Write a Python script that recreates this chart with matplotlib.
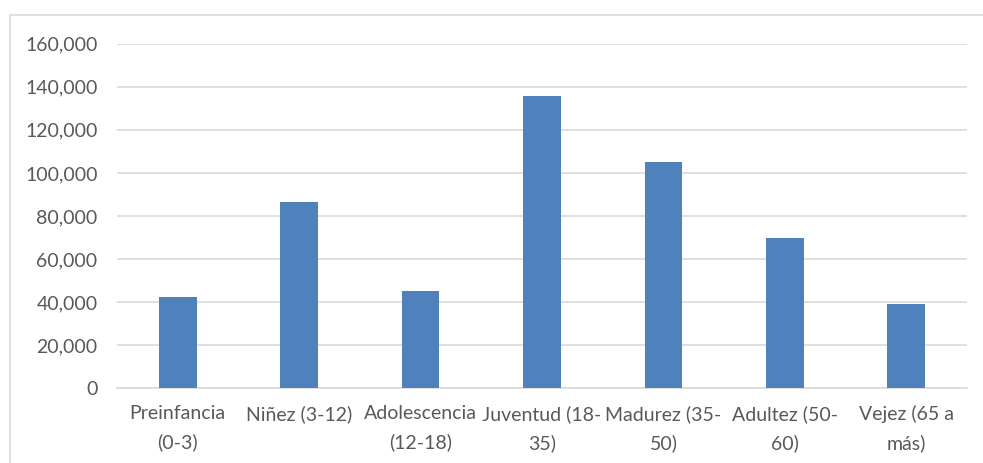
import matplotlib
matplotlib.use("Agg")
import matplotlib.pyplot as plt
from matplotlib.patches import Rectangle
from matplotlib.ticker import FuncFormatter

# data
categories = ["Preinfancia\n(0-3)", "Niñez (3-12)", "Adolescencia\n(12-18)",
              "Juventud (18-\n35)", "Madurez (35-\n50)", "Adultez (50-\n60)",
              "Vejez (65 a\nmás)"]
values = [42400, 86300, 45300, 135800, 105100, 69800, 39000]
y_ticks = [0, 20000, 40000, 60000, 80000, 100000, 120000, 140000, 160000]

bar_color = "#4F81BD"
text_color = "#595959"
grid_color = "#D9D9D9"

plt.rcParams['font.family'] = ['Lato', 'DejaVu Sans']

fig = plt.figure(figsize=(9.83, 4.63), dpi=100)
fig.patch.set_facecolor("white")

# light chart-area frame (runs off right/bottom edge like the source)
fig.patches.append(Rectangle((10 / 983, -0.1), 1.0, 1 - 15 / 463 + 0.1,
                             transform=fig.transFigure, fill=False,
                             edgecolor=grid_color, linewidth=1.2))

ax = fig.add_axes([117 / 983, 1 - 388.3 / 463, 850 / 983, 344.6 / 463])
x = range(len(categories))
ax.bar(x, values, width=0.31, color=bar_color, zorder=3)

ax.set_xlim(-0.5, len(categories) - 0.5)
ax.set_ylim(0, 160000)
ax.set_yticks(y_ticks)
ax.yaxis.set_major_formatter(FuncFormatter(lambda v, p: f"{int(v):,}"))
ax.set_xticks(list(x))
ax.set_xticklabels(categories, linespacing=1.75)

ax.grid(axis="y", color=grid_color, linewidth=1.2, zorder=0)
for side in ["top", "right", "left"]:
    ax.spines[side].set_visible(False)
ax.spines["bottom"].set_color(grid_color)
ax.spines["bottom"].set_linewidth(1.2)

ax.tick_params(axis="both", length=0, colors=text_color, labelsize=14)
ax.tick_params(axis="y", pad=14)
ax.tick_params(axis="x", pad=12)

fig.savefig("out.png", dpi=100, facecolor="white")
